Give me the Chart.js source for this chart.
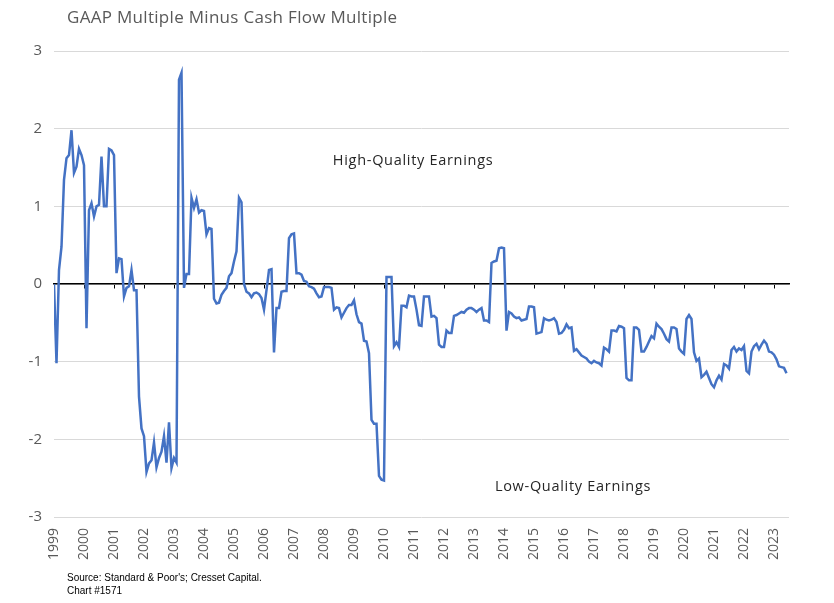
<!DOCTYPE html>
<html><head><meta charset="utf-8">
<script src="https://cdn.jsdelivr.net/npm/chart.js@4.4.1/dist/chart.umd.min.js"></script>
<style>
html,body{margin:0;padding:0;background:#fff;}
#wrap{position:relative;width:834px;height:603px;overflow:hidden;}
#title{position:absolute;left:67px;top:5px;font:17px "Open Sans",sans-serif;letter-spacing:0.3px;color:#595959;white-space:nowrap;}
#src{position:absolute;left:67px;top:571px;font:10px "Liberation Sans Narrow","Liberation Sans",sans-serif;color:#000;line-height:13px;white-space:nowrap;}
canvas{position:absolute;left:0;top:0;}
</style></head><body>
<div id="wrap"><canvas id="c" width="834" height="603"></canvas>
<div id="title">GAAP Multiple Minus Cash Flow Multiple</div>
<div id="src">Source: Standard &amp; Poor's; Cresset Capital.<br>Chart #1571</div></div>
<script>
const yearLabels = ['1999','2000','2001','2002','2003','2004','2005','2006','2007','2008','2009','2010','2011','2012','2013','2014','2015','2016','2017','2018','2019','2020','2021','2022','2023'];
const yTicks = [-3,-2,-1,0,1,2,3];
const v1999 = [0, -1.02, 0.18, 0.48, 1.34, 1.62, 1.66, 1.98, 1.43, 1.51, 1.74, 1.66];
const v2000 = [1.53, -0.57, 0.95, 1.04, 0.87, 1.0, 1.02, 1.64, 1.0, 1.0, 1.74, 1.72];
const v2001 = [1.66, 0.14, 0.33, 0.32, -0.16, -0.05, -0.03, 0.18, -0.08, -0.08, -1.45, -1.86];
const v2002 = [-1.96, -2.42, -2.31, -2.27, -2.04, -2.36, -2.24, -2.16, -1.96, -2.30, -1.78, -2.37];
const v2003 = [-2.24, -2.30, 2.63, 2.72, -0.05, 0.13, 0.13, 1.11, 0.98, 1.09, 0.92, 0.95];
const v2004 = [0.94, 0.64, 0.72, 0.71, -0.19, -0.25, -0.24, -0.14, -0.09, -0.05, 0.10, 0.14];
const v2005 = [0.29, 0.42, 1.11, 1.05, 0.0, -0.10, -0.12, -0.17, -0.12, -0.11, -0.13, -0.18];
const v2006 = [-0.33, -0.08, 0.18, 0.19, -0.88, -0.31, -0.31, -0.10, -0.09, -0.09, 0.59, 0.64];
const v2007 = [0.65, 0.14, 0.14, 0.12, 0.04, 0.03, -0.03, -0.04, -0.06, -0.12, -0.17, -0.16];
const v2008 = [-0.04, -0.04, -0.04, -0.05, -0.33, -0.30, -0.31, -0.43, -0.37, -0.31, -0.27, -0.27];
const v2009 = [-0.21, -0.39, -0.49, -0.51, -0.73, -0.74, -0.89, -1.75, -1.80, -1.80, -2.47, -2.52];
const v2010 = [-2.53, 0.09, 0.09, 0.09, -0.80, -0.75, -0.81, -0.28, -0.28, -0.30, -0.15, -0.16];
const v2011 = [-0.16, -0.33, -0.53, -0.54, -0.16, -0.16, -0.16, -0.42, -0.41, -0.44, -0.78, -0.81];
const v2012 = [-0.81, -0.60, -0.63, -0.63, -0.41, -0.40, -0.38, -0.36, -0.37, -0.33, -0.31, -0.31];
const v2013 = [-0.33, -0.36, -0.33, -0.31, -0.47, -0.47, -0.49, 0.27, 0.29, 0.30, 0.46, 0.47];
const v2014 = [0.46, -0.60, -0.36, -0.38, -0.42, -0.44, -0.43, -0.47, -0.46, -0.45, -0.29, -0.29];
const v2015 = [-0.30, -0.64, -0.63, -0.62, -0.44, -0.46, -0.47, -0.46, -0.44, -0.49, -0.64, -0.63];
const v2016 = [-0.59, -0.52, -0.57, -0.56, -0.86, -0.84, -0.88, -0.92, -0.94, -0.96, -1.00, -1.02];
const v2017 = [-0.99, -1.01, -1.02, -1.05, -0.82, -0.84, -0.87, -0.60, -0.60, -0.61, -0.54, -0.55];
const v2018 = [-0.57, -1.21, -1.24, -1.24, -0.56, -0.56, -0.59, -0.87, -0.87, -0.81, -0.74, -0.67];
const v2019 = [-0.70, -0.51, -0.55, -0.58, -0.64, -0.71, -0.74, -0.56, -0.56, -0.58, -0.83, -0.87];
const v2020 = [-0.90, -0.45, -0.40, -0.45, -0.88, -0.99, -0.96, -1.20, -1.17, -1.13, -1.21, -1.29];
const v2021 = [-1.33, -1.24, -1.18, -1.23, -1.03, -1.05, -1.09, -0.85, -0.81, -0.87, -0.83, -0.85];
const v2022 = [-0.80, -1.12, -1.15, -0.87, -0.80, -0.77, -0.84, -0.78, -0.73, -0.77, -0.87, -0.88];
const v2023 = [-0.91, -0.97, -1.06, -1.07, -1.08, -1.15];
const notes = [
  {text: 'High-Quality Earnings', x: 2010.97, y: 1.58},
  {text: 'Low-Quality Earnings', x: 2016.3, y: -2.61}
];

const series = [].concat(v1999, v2000, v2001, v2002, v2003, v2004, v2005, v2006, v2007, v2008, v2009, v2010, v2011, v2012, v2013, v2014, v2015, v2016, v2017, v2018, v2019, v2020, v2021, v2022, v2023);
const firstYear = Number(yearLabels[0]);
const points = series.map((v, i) => ({x: firstYear + i / 12, y: v}));
const xMin = firstYear, xMax = firstYear + 24.5;
const yearTicks = s => { s.ticks = yearLabels.map(l => ({value: Number(l)})); };

const notesPlugin = {
  id: 'notes',
  afterDraw(chart) {
    const {ctx, scales} = chart;
    ctx.save();
    ctx.font = '14.5px "Open Sans", sans-serif';
    if ('letterSpacing' in ctx) ctx.letterSpacing = '0.7px';
    ctx.fillStyle = '#262626';
    ctx.textAlign = 'center';
    ctx.textBaseline = 'middle';
    notes.forEach(n => ctx.fillText(n.text, scales.x.getPixelForValue(n.x), scales.y.getPixelForValue(n.y)));
    ctx.restore();
  }
};

new Chart(document.getElementById('c'), {
  type: 'line',
  data: {datasets: [{
    data: points,
    borderColor: '#4472C4',
    borderWidth: 2.5,
    pointRadius: 0,
    tension: 0,
    fill: false
  }]},
  options: {
    responsive: false,
    animation: false,
    devicePixelRatio: 1,
    layout: {padding: {left: 0, right: 45, top: 51, bottom: 26}},
    plugins: {legend: {display: false}, tooltip: {enabled: false}},
    scales: {
      x: {
        type: 'linear', min: xMin, max: xMax, position: 'bottom',
        afterBuildTicks: yearTicks,
        afterFit: s => { s.height = 60; },
        grid: {display: false},
        border: {display: false},
        ticks: {
          autoSkip: false, maxRotation: 90, minRotation: 90, padding: 3,
          color: '#595959', font: {family: 'Open Sans', size: 14},
          callback: v => yearLabels[Math.round(v - firstYear)]
        }
      },
      x2: {
        type: 'linear', min: xMin, max: xMax, position: {y: 0},
        afterBuildTicks: yearTicks,
        afterFit: s => { s.height = 0; },
        ticks: {display: false},
        grid: {drawOnChartArea: false, drawTicks: true, tickLength: 4, color: '#000', lineWidth: 1},
        border: {display: true, color: '#000', width: 1.5}
      },
      y: {
        min: -3, max: 3,
        afterBuildTicks: s => { s.ticks = yTicks.map(v => ({value: v})); },
        afterFit: s => { s.width = 54; },
        grid: {color: '#d9d9d9', lineWidth: 1, drawTicks: false},
        border: {display: false},
        ticks: {padding: 12, color: '#595959', font: {family: 'Open Sans', size: 15}}
      }
    }
  },
  plugins: [notesPlugin]
});
</script>
</body></html>
